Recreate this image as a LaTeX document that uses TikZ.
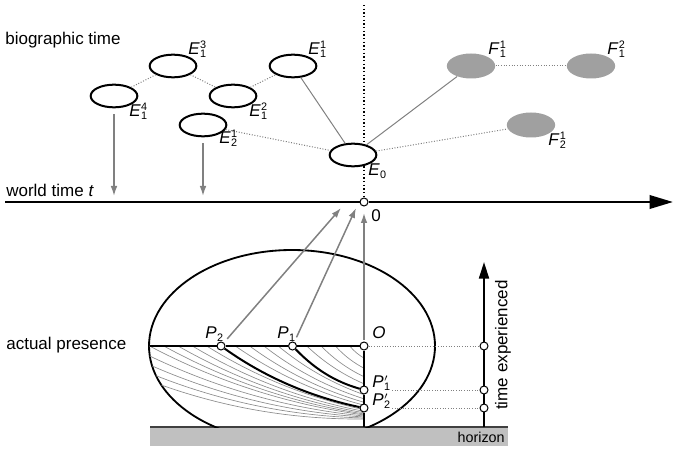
\documentclass[tikz,border=0pt]{standalone}
\usepackage{fontspec}
\setmainfont{Liberation Sans}
\usetikzlibrary{shapes.geometric,arrows.meta}
\definecolor{lgray}{RGB}{128,128,128}
\definecolor{fgray}{RGB}{160,160,160}
\definecolor{hgray}{RGB}{192,192,192}
\definecolor{hatchc}{RGB}{140,140,140}
\newcommand\scr[1]{{\fontsize{6.5}{7}\selectfont#1}}
\newcommand\evlab[3]{\textit{#1}\kern0.2pt\rlap{\raisebox{3.6pt}{\scr{#3}}}\raisebox{-1.8pt}{\scr{#2}}}
\newcommand\sublab[2]{\textit{#1}\kern0.2pt\raisebox{-1.8pt}{\scr{#2}}}
\begin{document}
\begin{tikzpicture}[x=0.6pt,y=-0.6pt,font=\fontsize{10.2}{12}\selectfont,
  ev/.style={ellipse,draw,line width=1.2pt,fill=white,minimum width=28pt,minimum height=13.6pt,inner sep=0pt},
  fv/.style={ellipse,fill=fgray,minimum width=29pt,minimum height=15pt,inner sep=0pt},
  lbl/.style={anchor=base west,inner sep=0pt},
  link/.style={draw=lgray,line width=0.6pt,densely dotted},
  links/.style={draw=lgray,line width=0.6pt},
  garrow/.style={draw=lgray,line width=0.9pt,-{Latex[length=6pt,width=4pt]}},
  dot/.style={circle,draw,fill=white,line width=0.6pt,minimum size=4.8pt,inner sep=0pt},
  thickline/.style={line width=1.2pt},
  hatchline/.style={draw=hatchc,line width=0.4pt},
  guide/.style={draw=lgray,line width=0.6pt,densely dotted}]
\useasboundingbox (0,0) rectangle (680,451);

% ---------- top: biographic time ----------
\node[lbl] (tbio) at (5,45) {biographic time};
\node[lbl] (tworld) at (6,197) {world time \textit{t}};
\node[lbl] (tpres) at (6,349) {actual presence};

\coordinate (vtop) at (364,5);
\node[dot] (zero) at (364,202) {};
\draw[line width=0.9pt,dash pattern=on 0.9pt off 1.3pt] (vtop) -- (zero);

\coordinate (ax0) at (5,202);
\coordinate (ax1) at (673,202);
\draw[line width=1.5pt] (ax0) -- (zero);
\draw[line width=1.5pt,-{Triangle[length=14pt,width=8pt]}] (zero) -- (ax1);
\node[lbl] (tzero) at (371,221) {0};

\node[ev] (e14) at (114,96) {};
\node[ev] (e13) at (173,66) {};
\node[ev] (e12) at (233,96) {};
\node[ev] (e11) at (293,66) {};
\node[ev] (e21) at (203,125) {};
\node[ev] (e0) at (353,155) {};
\node[fv] (f11) at (471,66) {};
\node[fv] (f12) at (591,66) {};
\node[fv] (f21) at (531,125) {};

\draw[link] (e14) -- (e13);
\draw[link] (e13) -- (e12);
\draw[link] (e12) -- (e11);
\draw[links] (e11) -- (e0);
\draw[link] (e21) -- (e0);
\draw[links] (e0) -- (f11);
\draw[link] (e0) -- (f21);
\draw[link] (f11) -- (f12);

\node[lbl] (le13) at (188,55) {\evlab{E}{1}{3}};
\node[lbl] (le11) at (308,55) {\evlab{E}{1}{1}};
\node[lbl] (le14) at (129,117) {\evlab{E}{1}{4}};
\node[lbl] (le12) at (249,117) {\evlab{E}{1}{2}};
\node[lbl] (le21) at (219,144) {\evlab{E}{2}{1}};
\node[lbl] (le0) at (368,176) {\sublab{E}{0}};
\node[lbl] (lf11) at (488,55) {\evlab{F}{1}{1}};
\node[lbl] (lf12) at (607,55) {\evlab{F}{1}{2}};
\node[lbl] (lf21) at (548,146) {\evlab{F}{2}{1}};

\coordinate (d1) at (114,196);
\coordinate (d2) at (203,196);
\draw[garrow,shorten <=3.6pt] (e14.south) -- (d1);
\draw[garrow,shorten <=3.6pt] (e21.south) -- (d2);

% ---------- bottom: actual presence ----------
\fill[hgray] (150,428) rectangle (508,446);
\coordinate (hl) at (150,427);
\coordinate (hr) at (508,427);
\draw[line width=1.2pt,black!75] (hl) -- (hr);
\node[anchor=east,inner sep=0pt,font=\fontsize{8.6}{10}\selectfont] (thor) at (505,437) {horizon};

\begin{scope}
  \clip (100,200) rectangle (520,427);
  \draw[line width=1.1pt] (292,346) ellipse [x radius=85.8pt, y radius=57.6pt];
\end{scope}

% hatch curves from the present line
\foreach \k in {1,2,3,4,6,7,8,9,11,12,13,14,15}{
  \pgfmathsetmacro\xa{364-14.3*\k}
  \pgfmathsetmacro\dx{364-\xa}
  \pgfmathsetmacro\yb{346+74*(1-exp(-\dx/80))}
  \pgfmathsetmacro\ch{atan((\yb-346)/\dx)}
  \pgfmathsetmacro\ca{\xa+\dx/3}
  \pgfmathsetmacro\cb{346+\dx/3*tan(\ch+10)}
  \pgfmathsetmacro\cc{364-\dx/3}
  \pgfmathsetmacro\cd{\yb-\dx/3*tan(\ch-10)}
  \draw[hatchline] (\xa,346) .. controls (\ca,\cb) and (\cc,\cd) .. (364,\yb);
}
% hatch curves from the ellipse edge
\foreach \t/\yb in {6/416,12/417,18/418,24/419}{
  \pgfmathsetmacro\xa{292-143*cos(\t)}
  \pgfmathsetmacro\ya{346+96*sin(\t)}
  \pgfmathsetmacro\dx{364-\xa}
  \pgfmathsetmacro\ch{atan((\yb-\ya)/\dx)}
  \pgfmathsetmacro\ca{\xa+\dx/3}
  \pgfmathsetmacro\cb{\ya+\dx/3*tan(\ch+10)}
  \pgfmathsetmacro\cc{364-\dx/3}
  \pgfmathsetmacro\cd{\yb-\dx/3*tan(\ch-10)}
  \draw[hatchline] (\xa,\ya) .. controls (\ca,\cb) and (\cc,\cd) .. (364,\yb);
}

\coordinate (pl) at (150,346);
\coordinate (vb) at (364,427);
\node[dot] (P2) at (221,346) {};
\node[dot] (P1) at (292.5,346) {};
\node[dot] (O) at (364,346) {};
\node[dot] (P1p) at (364,390) {};
\node[dot] (P2p) at (364,408) {};

\draw[thickline] (pl) -- (P2);
\draw[thickline] (P2) -- (P1);
\draw[thickline] (P1) -- (O);
\draw[thickline] (O) -- (P1p);
\draw[thickline] (P1p) -- (P2p);
\draw[thickline] (P2p) -- (vb);

\draw[thickline] (P1) .. controls (318.5,373) and (340,383) .. (P1p);
\draw[thickline] (P2) .. controls (268.7,380) and (316,398) .. (P2p);

\node[lbl] (lP2) at (205,338) {\sublab{P}{2}};
\node[lbl] (lP1) at (277,338) {\sublab{P}{1}};
\node[lbl] (lO) at (372,338) {\textit{O}};
\node[lbl] (lP1p) at (372,387) {\evlab{P}{1}{$\prime$}};
\node[lbl] (lP2p) at (372,405) {\evlab{P}{2}{$\prime$}};

\coordinate (a2e) at (341,208);
\coordinate (a1e) at (356,208);
\coordinate (aOe) at (364,213);
\draw[garrow,shorten <=3pt] (P2) -- (a2e);
\draw[garrow,shorten <=3pt] (P1) -- (a1e);
\draw[garrow,shorten <=1pt] (O) -- (aOe);

% time experienced axis
\coordinate (ta0) at (484,427);
\coordinate (ta1) at (484,262);
\draw[line width=1.2pt,-{Triangle[length=10pt,width=6pt]}] (ta0) -- (ta1);
\node[dot] (t0) at (484,346) {};
\node[dot] (t1) at (484,390) {};
\node[dot] (t2) at (484,408) {};
\coordinate (g1) at (392,390);
\coordinate (g2) at (392,408);
\draw[guide] (O) -- (t0);
\draw[guide] (g1) -- (t1);
\draw[guide] (g2) -- (t2);
\node[rotate=90,inner sep=0pt] (texp) at (503,345) {time experienced};
\end{tikzpicture}
\end{document}
